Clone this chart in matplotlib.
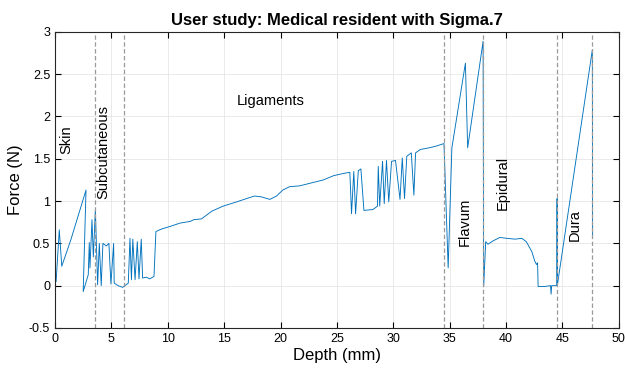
import matplotlib
matplotlib.use("Agg")
import matplotlib.pyplot as plt

depth = [0.1, 0.38, 0.6, 1.4, 2.75, 2.5, 2.95, 3.04, 3.1, 3.28, 3.4, 3.58, 3.78, 3.93, 4.1,
         4.25, 4.55, 4.78, 4.96, 5.2, 5.25, 5.6, 6.0, 6.5, 6.65, 6.78, 6.9, 7.1, 7.3, 7.45,
         7.65, 7.77, 8.1, 8.4, 8.78, 8.95, 9.46, 10.2, 11.1, 12.0, 12.3, 13.0, 13.9, 14.9,
         16.1, 17.0, 17.7, 18.3, 19.06, 19.65, 20.2, 20.8, 21.7, 22.9, 23.8, 24.7, 25.7,
         26.15, 26.3, 26.5, 26.66, 26.9, 27.13, 27.4, 28.2, 28.6, 28.67, 28.8, 29.05, 29.2,
         29.4, 29.6, 29.85, 30.2, 30.6, 30.8, 31.0, 31.2, 31.6, 31.83, 31.98, 32.4, 33.2,
         33.8, 34.5, 34.87, 35.2, 36.4, 36.6, 37.97, 38.02, 38.2, 38.4, 38.86, 39.45, 40.05,
         40.8, 41.4, 41.8, 42.3, 42.55, 42.7, 42.8, 42.85, 43.4, 43.95, 44.0, 44.05, 44.5,
         44.53, 44.56, 47.66, 47.68]
force = [0.05, 0.66, 0.23, 0.54, 1.13, -0.07, 0.13, 0.51, 0.21, 0.78, 0.34, 0.9, 0.01, 0.5, 0.0,
         0.5, 0.47, 0.5, 0.02, 0.5, 0.03, 0.0, -0.02, 0.03, 0.56, 0.07, 0.55, 0.07, 0.52, 0.08,
         0.55, 0.09, 0.1, 0.08, 0.11, 0.64, 0.67, 0.70, 0.74, 0.76, 0.78, 0.79, 0.88, 0.94,
         0.99, 1.03, 1.06, 1.05, 1.02, 1.06, 1.13, 1.17, 1.18, 1.22, 1.25, 1.30, 1.33,
         1.34, 0.85, 1.35, 0.85, 1.36, 1.38, 0.89, 0.90, 0.94, 1.41, 0.94, 1.47, 0.97,
         1.48, 0.99, 1.47, 1.48, 1.02, 1.51, 1.03, 1.53, 1.57, 1.07, 1.57, 1.61, 1.63,
         1.65, 1.68, 0.21, 1.63, 2.63, 1.63, 2.89, -0.01, 0.52, 0.49, 0.53, 0.57, 0.56,
         0.55, 0.56, 0.52, 0.40, 0.29, 0.25, 0.27, -0.01, -0.01, 0.0, -0.1, 0.0, 0.0,
         1.03, 0.01, 2.79, 0.58]

boundaries = [3.55, 6.09, 34.5, 37.97, 44.5, 47.67]
layer_names = ["Skin", "Subcutaneous", "Ligaments", "Flavum", "Epidural", "Dura"]
label_x = [1.0, 4.3, 19.1, 36.35, 39.7, 46.1]
label_y = [1.72, 1.58, 2.18, 0.75, 1.22, 0.72]
label_rot = [90, 90, 0, 90, 90, 90]

plt.rcParams['font.family'] = ['Liberation Sans', 'DejaVu Sans']

fig = plt.figure(figsize=(6.25, 3.71), dpi=100)
ax = fig.add_axes([0.088, 0.116, 0.902, 0.798])

ax.plot(depth, force, color='#0072BD', linewidth=0.65)
for b in boundaries:
    ax.axvline(b, color='#999999', linestyle='--', linewidth=0.9, dashes=(3.5, 2))
for name, xx, yy, r in zip(layer_names, label_x, label_y, label_rot):
    ax.text(xx, yy, name, rotation=r, ha='center', va='center', fontsize=10.5)

ax.set_xlim(0, 50)
ax.set_ylim(-0.5, 3)
ax.set_xticks(range(0, 51, 5))
ax.set_yticks([-0.5, 0, 0.5, 1, 1.5, 2, 2.5, 3])
ax.set_yticklabels(['-0.5', '0', '0.5', '1', '1.5', '2', '2.5', '3'])
ax.grid(True, color='#e6e6e6', linewidth=0.6)
ax.set_axisbelow(True)
ax.tick_params(direction='in', top=True, right=True, labelsize=9, length=4, width=0.8)
for s in ax.spines.values():
    s.set_linewidth(0.8)
    s.set_color('#262626')
ax.set_xlabel('Depth (mm)', fontsize=12, labelpad=2)
ax.set_ylabel('Force (N)', fontsize=12, labelpad=4)
ax.set_title('User study: Medical resident with Sigma.7', fontsize=12, fontweight='bold', pad=5)

fig.savefig('out.png', dpi=100)
